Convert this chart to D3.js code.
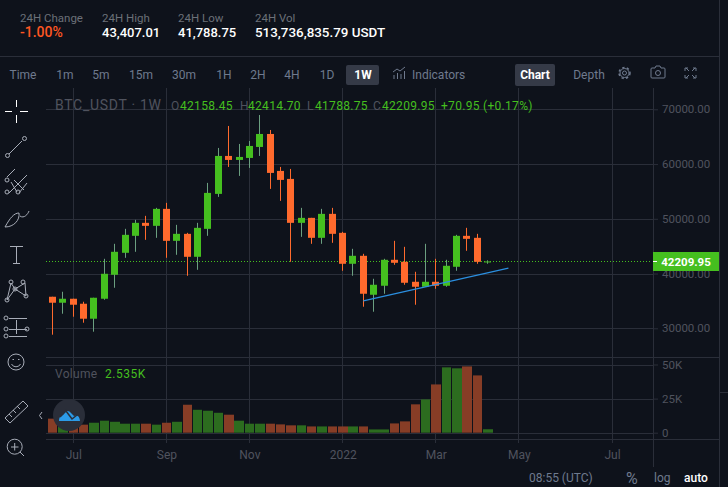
<!DOCTYPE html>
<html>
<head>
<meta charset="utf-8">
<script src="https://cdn.jsdelivr.net/npm/d3@7"></script>
<style>
  html, body { margin: 0; padding: 0; background: #0e121b; }
  svg { display: block; }
  text { font-family: Roboto, sans-serif; }
  .axis path { display: none; }
  .axis line { stroke: #2a2e39; }
  .axis text { fill: #50535e; font-size: 12px; }
  .axis.right text { font-size: 11.5px; }
</style>
</head>
<body>
<div id="chart"></div>
<script>
// weekly candles, first one is the week of 2021-06-21
const firstWeek = '2021-06-21';
const opens = [35763,34669,35398,34486,31750,35398,39776,43789,46890,49261,48714,51814,45978,47254,43059,48166,54550,61482,60752,61117,63123,65494,58746,57286,49261,50173,46525,50902,47437,41782,43242,36128,37770,42512,42147,38499,37587,38499,37770,41235,46890,46525,42158.45];
const highs = [35763,36675,35398,34851,35581,42694,45430,48166,49808,50538,51997,52909,48896,47437,49261,56557,62941,66954,63670,64218,68960,66224,59475,59110,51997,50173,51814,51997,47619,44518,43606,39046,42694,45978,44883,40323,45430,42694,42512,47072,48349,47254,42414.70];
const lows = [28832,32662,32115,31021,29379,35216,37405,42877,43971,46160,46525,42877,43424,39594,40688,46890,54003,59475,57834,59293,61482,55462,53274,42147,46707,45430,45430,45613,40506,39594,33939,33027,36310,41600,37952,34304,37587,37222,37587,40506,44154,41782,41788.75];
const closes = [34669,35398,34304,31750,35581,39958,43971,47072,49261,48714,51814,45978,47254,43059,48349,54733,61482,60752,61299,63306,65494,58381,57104,49261,50173,46525,50902,47254,41782,43242,36310,37952,42512,41965,38317,37587,38499,37770,41418,46890,46342,42147,42209.95];
const volumes = [10300,6000,6500,5900,7300,8800,8000,6600,6600,6600,5900,7300,8000,20500,16800,16100,14600,13200,8800,6600,6600,6600,6100,5400,5400,4600,4600,4600,4600,4600,4600,2400,2400,6800,8300,20800,24400,35400,47900,47200,48600,42000,2535];

const priceTicks = [30000,40000,50000,60000,70000];
const volumeTicks = [0,25000,50000];
const dateTicks = ['2021-07-05','2021-09-06','2021-11-01','2022-01-03','2022-03-07','2022-05-02','2022-07-04'];
const dateLabels = ['Jul','Sep','Nov','2022','Mar','May','Jul'];
const trendDates = ['2022-01-17','2022-04-25'];
const trendPrices = [35015,40983];
const lastPrice = 42209.95;

const intervals = ['Time','1m','5m','15m','30m','1H','2H','4H','1D','1W'];
const stats = [['24H Change','-1.00%'],['24H High','43,407.01'],['24H Low','41,788.75'],['24H Vol','513,736,835.79 USDT']];
const ohlcLabels = ['O','H','L','C'];
const ohlcValues = ['42158.45','42414.70','41788.75','42209.95'];

const width = 728, height = 487;
const paneLeft = 46, paneRight = 653, frameRight = 719;
const up = '#45bf1f', down = '#ff6a2d', upWick = '#6b9f80', upVol = '#2c6c1f', downVol = '#873d26';
const grey = '#6f7a8e', dim = '#50535e', rule = '#2a2e39';

const parseDate = d3.utcParse('%Y-%m-%d');
const dates = opens.map((_, i) => d3.utcWeek.offset(parseDate(firstWeek), i));

const x = d3.scaleUtc()
    .domain([parseDate('2021-07-05'), parseDate('2022-07-04')])
    .range([73.22, 612.05]);
const y = d3.scaleLinear().domain([30000, 70000]).range([328.3, 109.3]);
const yVol = d3.scaleLinear().domain([0, 50000]).range([432.7, 364.5]);
const px = d => Math.floor(x(d)) + .5;

const svg = d3.select('#chart').append('svg')
    .attr('width', width)
    .attr('height', height);

svg.append('rect').attr('width', width).attr('height', height).attr('fill', '#0e121b');

// frame
const frame = [[0, 56.5, frameRight, 56.5], [frameRight + .5, 0, frameRight + .5, height], [paneRight + .5, 88, paneRight + .5, 467],
    [paneLeft, 357.5, frameRight, 357.5], [paneLeft, 439.5, frameRight, 439.5], [frameRight, 392.5, width, 392.5]];
svg.selectAll('line.frame').data(frame).enter().append('line')
    .attr('class', 'frame')
    .attr('x1', d => d[0]).attr('y1', d => d[1])
    .attr('x2', d => d[2]).attr('y2', d => d[3])
    .attr('stroke', rule);

// vertical grid
svg.selectAll('line.vgrid').data(dateTicks).enter().append('line')
    .attr('class', 'vgrid')
    .attr('x1', d => px(parseDate(d)))
    .attr('x2', d => px(parseDate(d)))
    .attr('y1', 88).attr('y2', 443)
    .attr('stroke', rule);

// horizontal grid
svg.selectAll('line.hgrid').data(priceTicks).enter().append('line')
    .attr('class', 'hgrid')
    .attr('x1', paneLeft).attr('x2', paneRight)
    .attr('y1', d => Math.round(y(d)) + .5).attr('y2', d => Math.round(y(d)) + .5)
    .attr('stroke', rule);
svg.selectAll('line.vhgrid').data(volumeTicks).enter().append('line')
    .attr('class', 'vhgrid')
    .attr('x1', paneLeft).attr('x2', paneRight)
    .attr('y1', d => Math.round(yVol(d)) + .5).attr('y2', d => Math.round(yVol(d)) + .5)
    .attr('stroke', rule);

// axes
svg.append('g')
    .attr('class', 'axis right')
    .attr('transform', `translate(${paneRight},0)`)
    .call(d3.axisRight(y).tickValues(priceTicks).tickSize(5).tickPadding(4).tickFormat(d3.format('.2f')));
svg.append('g')
    .attr('class', 'axis right')
    .attr('transform', `translate(${paneRight},0)`)
    .call(d3.axisRight(yVol).tickValues(volumeTicks).tickSize(5).tickPadding(4)
      .tickFormat(d => d ? d / 1000 + 'K' : '0'));
svg.append('g')
    .attr('class', 'axis')
    .attr('transform', 'translate(0,439.5)')
    .call(d3.axisBottom(x).tickValues(dateTicks.map(parseDate)).tickSize(0).tickPadding(11)
      .tickFormat((d, i) => dateLabels[i]));

// volume bars
svg.selectAll('rect.vol').data(volumes).enter().append('rect')
    .attr('class', 'vol')
    .attr('x', (d, i) => Math.round(x(dates[i]) - 4.6))
    .attr('width', (d, i) => Math.round(x(dates[i]) + 4.9) - Math.round(x(dates[i]) - 4.6))
    .attr('y', d => yVol(d))
    .attr('height', d => yVol(0) - yVol(d))
    .attr('fill', (d, i) => closes[i] >= opens[i] ? upVol : downVol);

// last price dotted line
svg.append('line')
    .attr('x1', paneLeft).attr('x2', 650)
    .attr('y1', Math.round(y(lastPrice)) + .5).attr('y2', Math.round(y(lastPrice)) + .5)
    .attr('stroke', up).attr('stroke-dasharray', '1 2');

// candles
const bodyWidth = 7;
const candle = svg.selectAll('g.candle').data(opens).enter().append('g').attr('class', 'candle');
candle.append('line')
    .attr('x1', (d, i) => px(dates[i]))
    .attr('x2', (d, i) => px(dates[i]))
    .attr('y1', (d, i) => y(highs[i]))
    .attr('y2', (d, i) => y(lows[i]))
    .attr('stroke', (d, i) => closes[i] >= opens[i] ? upWick : down);
candle.append('rect')
    .attr('x', (d, i) => px(dates[i]) - bodyWidth / 2)
    .attr('width', bodyWidth)
    .attr('y', (d, i) => y(Math.max(opens[i], closes[i])))
    .attr('height', (d, i) => Math.max(1, Math.abs(y(opens[i]) - y(closes[i]))))
    .attr('fill', (d, i) => closes[i] >= opens[i] ? up : down);

// trend line
svg.append('line')
    .attr('x1', x(parseDate(trendDates[0]))).attr('y1', y(trendPrices[0]))
    .attr('x2', x(parseDate(trendDates[1]))).attr('y2', y(trendPrices[1]))
    .attr('stroke', '#2b8fe0').attr('stroke-width', 1.2);

// price tag
svg.append('rect')
    .attr('x', 653).attr('y', 252)
    .attr('width', 66).attr('height', 19)
    .attr('fill', up);
svg.append('line')
    .attr('x1', 653).attr('x2', 657).attr('y1', 261.5).attr('y2', 261.5).attr('stroke', '#fff');
svg.append('text')
    .attr('x', 686).attr('y', 266)
    .attr('text-anchor', 'middle').attr('fill', '#fff')
    .attr('font-size', 11.5).attr('font-weight', 700)
    .text(d3.format('.2f')(lastPrice));

// header stats
const statX = [20, 102, 178, 255];
const statSize = [14, 13, 13, 13.4];
stats.forEach((s, i) => {
  svg.append('text').attr('x', statX[i]).attr('y', 22).attr('font-size', 11.5).attr('fill', '#6b7078').text(s[0]);
  svg.append('text').attr('x', statX[i]).attr('y', 37).attr('font-size', statSize[i]).attr('font-weight', 500)
    .attr('fill', i ? '#fff' : '#ff5722').text(s[1]);
});

// interval bar
const intervalX = [23, 65, 101, 141, 184, 224, 258, 292, 327, 363];
svg.append('rect').attr('x', 346).attr('y', 65).attr('width', 33).attr('height', 20).attr('rx', 2).attr('fill', '#353a47');
intervals.forEach((t, i) => {
  svg.append('text').attr('x', intervalX[i]).attr('y', 79).attr('text-anchor', 'middle').attr('font-size', 12)
    .attr('font-weight', i === 9 ? 700 : 400)
    .attr('fill', i === 9 ? '#fff' : grey).text(t);
});
svg.append('text').attr('x', 412).attr('y', 79).attr('font-size', 12).attr('fill', grey).text('Indicators');
svg.append('rect').attr('x', 515).attr('y', 64).attr('width', 40).attr('height', 22).attr('rx', 2).attr('fill', '#353a47');
svg.append('text').attr('x', 535).attr('y', 79).attr('text-anchor', 'middle').attr('font-size', 12).attr('font-weight', 700).attr('fill', '#fff').text('Chart');
svg.append('text').attr('x', 589).attr('y', 79).attr('text-anchor', 'middle').attr('font-size', 12).attr('fill', grey).text('Depth');

// legend
svg.append('text').attr('x', 55).attr('y', 110).attr('font-size', 14).attr('letter-spacing', .7).attr('fill', dim).text('BTC_USDT · 1W');
const ohlcX = [171, 240, 307, 373];
const ohlcDigitX = [180, 248, 315, 382];
ohlcLabels.forEach((l, i) => {
  svg.append('text').attr('x', ohlcX[i]).attr('y', 110).attr('font-size', 12).attr('fill', dim).text(l);
  svg.append('text').attr('x', ohlcDigitX[i]).attr('y', 110).attr('font-size', 12).attr('letter-spacing', .3).attr('fill', up).text(ohlcValues[i]);
});
svg.append('text').attr('x', 441).attr('y', 110).attr('font-size', 12).attr('letter-spacing', .3).attr('fill', up).text('+70.95 (+0.17%)');
const volLegend = svg.append('text').attr('x', 55).attr('y', 378).attr('font-size', 12);
volLegend.append('tspan').attr('fill', dim).attr('letter-spacing', .3).text('Volume');
volLegend.append('tspan').attr('fill', up).attr('x', 105).attr('letter-spacing', .5).text('2.535K');

// footer
svg.append('text').attr('x', 529).attr('y', 482).attr('font-size', 12).attr('fill', grey).text('08:55 (UTC)');
svg.append('text').attr('x', 626).attr('y', 484).attr('font-size', 16).attr('fill', grey).text('%');
svg.append('text').attr('x', 654).attr('y', 482).attr('font-size', 12).attr('fill', grey).text('log');
svg.append('text').attr('x', 684).attr('y', 482).attr('font-size', 12).attr('font-weight', 500).attr('fill', '#fff').text('auto');

// toolbar icons
const icon = svg.append('g').attr('fill', 'none').attr('stroke', '#a8adb8').attr('stroke-width', 1);
const path = (d, c) => icon.append('path').attr('d', d).attr('stroke', c || null);
path('M5 111.5h7M20 111.5h8M16.5 100v7M16.5 115v8', '#fff');
path('M9 154L22 141');
icon.append('circle').attr('cx', 7.5).attr('cy', 155.5).attr('r', 2);
icon.append('circle').attr('cx', 24.5).attr('cy', 138.5).attr('r', 2);
path('M7 177L15 169M9 193L27 175M19 193L27 183M14 180L24 190M11 182L17 192');
[[7, 180], [7, 192], [18, 192]].forEach(c => icon.append('circle').attr('cx', c[0]).attr('cy', c[1]).attr('r', 2));
path('M5 227C10 218 14 213 19 213C20 220 14 227 5 227ZM20 216C24 219 28 214 29 211');
path('M10 246.5h13M16.5 247v16M13 263.5h7');
path('M7 300L11 283L15 289L25 283L26 296L15 289Z');
[[7, 300], [11, 282], [15, 289], [23, 282], [26, 296]].forEach(c => icon.append('circle').attr('cx', c[0]).attr('cy', c[1]).attr('r', 2));
path('M9 318.5h18M9 329.5h18M9 336.5h18M16.5 320v14');
[[6, 318], [6, 329], [6, 336], [27, 329]].forEach(c => icon.append('circle').attr('cx', c[0]).attr('cy', c[1]).attr('r', 2));
icon.append('circle').attr('cx', 16).attr('cy', 362).attr('r', 8);
path('M11.5 364a5 5 0 0 0 9 0M12.5 359.5h1.5M18 359.5h1.5');
path('M5 418L23 401L28 406L10 423ZM9 414L12 417M13 410L16 413M17 406L20 409');
icon.append('circle').attr('cx', 14.7).attr('cy', 446.7).attr('r', 7.5);
path('M11 447h7.5M14.7 443v7.5M20 452L24 456');
path('M42 412L39.5 415.5L42 419', '#a8adb8');

// logo
svg.append('circle').attr('cx', 69).attr('cy', 415).attr('r', 16).attr('fill', '#2a2e39');
svg.append('path').attr('d', 'M59 421C59 416 62 415 63 415C65 410 69 410 71 413L74 416C78 414 80 418 80 421Z').attr('fill', '#2c9be8');
svg.append('path').attr('d', 'M60 417L66 411L72 419L77 415').attr('fill', 'none').attr('stroke', '#2a2e39').attr('stroke-width', 1.5);

// top right icons
const topIcons = svg.append('g').attr('fill', 'none').attr('stroke', grey);
topIcons.append('circle').attr('cx', 624.5).attr('cy', 73).attr('r', 2);
topIcons.append('circle').attr('cx', 624.5).attr('cy', 73).attr('r', 4.5);
topIcons.append('circle').attr('cx', 624.5).attr('cy', 73).attr('r', 5.5).attr('stroke-width', 1.5).attr('stroke-dasharray', '2.3 2.3');
topIcons.append('path').attr('d', 'M652 68h3l1-2h4l1 2h3a1 1 0 0 1 1 1v8a1 1 0 0 1-1 1h-12a1 1 0 0 1-1-1v-8a1 1 0 0 1 1-1Z');
topIcons.append('circle').attr('cx', 658).attr('cy', 73).attr('r', 2.5);
topIcons.append('path').attr('d', 'M686 68l3 3M695 68l-3 3M686 78l3-3M695 78l-3-3M685 71v-3h3M696 71v-3h-3M685 75v3h3M696 75v3h-3');
topIcons.append('path').attr('d', 'M394 79v-4M397.5 79v-6M401 79v-5M404.5 79v-8M393 72l4-3 3 2 5-4');
</script>
</body>
</html>
